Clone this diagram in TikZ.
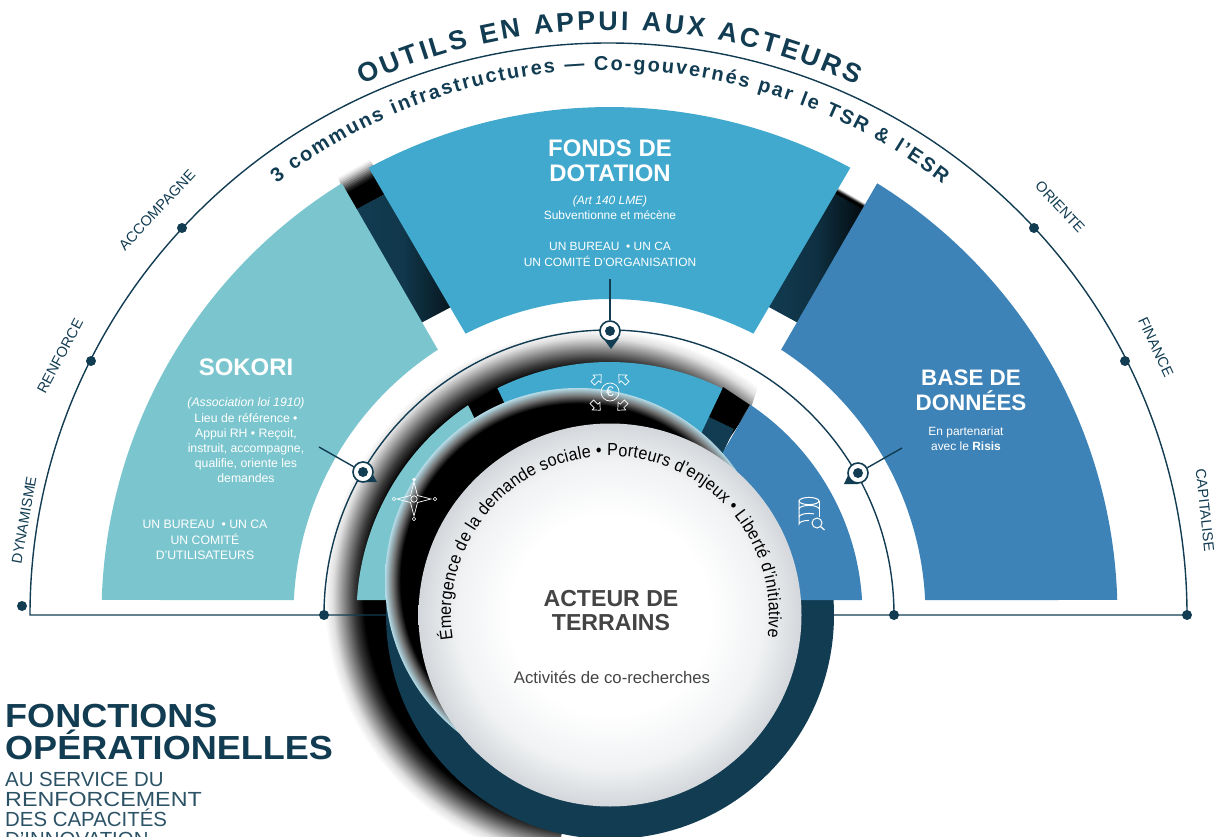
\documentclass[tikz,border=0pt]{standalone}
\usepackage{fontspec}
\setmainfont{Liberation Sans}
\newfontfamily\widef[FakeStretch=1.08]{Liberation Sans}
\newfontfamily\widerf[FakeStretch=1.14]{Liberation Sans}
\newfontfamily\narrowf[FakeStretch=.92]{Liberation Sans}
\usetikzlibrary{calc,decorations.text}
\definecolor{navy}{HTML}{123C52}
\definecolor{teal}{HTML}{7BC6CE}
\definecolor{fonds}{HTML}{41A9CD}
\definecolor{based}{HTML}{3E83B7}
\definecolor{darktxt}{HTML}{444444}
\definecolor{subt}{HTML}{2C5266}
\definecolor{rimA}{HTML}{D3D7DB}
\definecolor{rimB}{HTML}{F0F2F3}
\definecolor{halo}{HTML}{B4DCE8}
\pgfdeclareradialshading{blurd}{\pgfpoint{0bp}{0bp}}{color(0bp)=(black);color(21.3bp)=(black);color(22.2bp)=(black!78);color(23.2bp)=(black!45);color(24.2bp)=(black!12);color(25bp)=(white);color(50bp)=(white)}
\pgfdeclareradialshading{rimd}{\pgfpoint{0bp}{0bp}}{color(0bp)=(black);color(23bp)=(black);color(24bp)=(black!55);color(25bp)=(halo);color(50bp)=(halo)}
\pgfdeclareradialshading{plate}{\pgfpoint{0bp}{0bp}}{color(0bp)=(white);color(13bp)=(white);color(20bp)=(rimB);color(25bp)=(rimA);color(50bp)=(rimA)}
\tikzset{
  wtxt/.style={text=white,inner sep=0,align=center,font=\fontsize{12}{15.3}\selectfont},
  wbig/.style={text=white,inner sep=0,align=center,font=\fontsize{24}{25}\selectfont\bfseries},
  axis/.style={text=navy,inner sep=0,font=\fontsize{14.6}{18}\selectfont},
  dotn/.style={circle,fill=navy,inner sep=0,minimum size=10bp},
  markn/.style={circle,fill=white,draw=navy,line width=1.6bp,inner sep=0,minimum size=20bp},
  lineN/.style={draw=navy,line width=1.4bp},
  icon/.style={draw=white,line width=.7bp},
  headl/.style={anchor=base west,inner sep=0,text=navy,font=\widef\fontsize{33.5}{36}\selectfont\bfseries},
  subl/.style={anchor=base west,inner sep=0,text=subt,font=\fontsize{20.5}{22}\selectfont},
}
\begin{document}
\begin{tikzpicture}[x=1bp,y=-1bp]
\useasboundingbox (0,0) rectangle (1219,837);
\coordinate (c) at (609.5,615);
\coordinate (d) at (610,615);
% soft shadow disc, cut off on the lower right
\begin{scope}
\clip (0,0) -- (770,0) -- (770,350) -- (752,405) -- (610,615) -- (561,837) -- (0,837) -- cycle;
\shade[shading=blurd] (592,597) circle[radius=268];
\end{scope}
% navy ring below the wedge line
\begin{scope}
\clip (0,600) rectangle (1219,837);
\fill[navy] (d) circle[radius=224];
\end{scope}
% small strips
\fill[black] (468,405) -- (497,387) -- (530,440) -- (495,460) -- cycle;
\fill[black] (723,387) -- (750,405) -- (734,429) -- (709,417) -- cycle;
\fill[navy] (709,417) -- (734,429) -- (722,455) -- (695,437) -- cycle;
% small wedges
\fill[teal] ([shift={(-176.6:253)}]c) arc[start angle=-176.6,end angle=-124,radius=253] -- (530,530) -- (530,600) -- cycle;
\fill[fonds] ([shift={(-116.3:253)}]c) arc[start angle=-116.3,end angle=-63.5,radius=253] -- (660,520) -- (560,520) -- cycle;
\fill[based] ([shift={(-56.2:253)}]c) arc[start angle=-56.2,end angle=-3.4,radius=253] -- (700,600) -- (690,510) -- cycle;
% big strips: fade at the top, then navy
\foreach \t/\k in {0/6,.1/14,.2/24,.3/36,.4/48,.5/60,.6/72,.7/84,.8/92,.9/100}{
  \fill[black!\k!white] ($(338,178)!\t!(347,195)$) -- ($(370,160)!\t!(379,177)$) -- (390,191) -- (350,213) -- cycle;
  \fill[black!\k!white] ($(837,187)!\t!(837,192)$) -- ($(866,204)!\t!(864,207)$) -- (864,212) -- (834,195) -- cycle;
}
\shade[left color=navy,right color=navy!35!black,middle color=navy!92!black] (353,211) -- (387,193) -- (453,306) -- (419,324) -- cycle;
\shade[left color=navy,right color=navy!15!black,middle color=navy!80!black] (832,192) -- (866,211) -- (800,324) -- (767,306) -- cycle;
% big wedges
\fill[teal] ([shift={(-178.3:508)}]c) arc[start angle=-178.3,end angle=-121.8,radius=508] -- ([shift={(-122.9:316)}]c) arc[start angle=-122.9,end angle=-177.3,radius=316] -- cycle;
\fill[fonds] ([shift={(-118.3:508)}]c) arc[start angle=-118.3,end angle=-61.7,radius=508] -- ([shift={(-62.9:316)}]c) arc[start angle=-62.9,end angle=-117.1,radius=316] -- cycle;
\fill[based] ([shift={(-58.2:508)}]c) arc[start angle=-58.2,end angle=-1.7,radius=508] -- ([shift={(-2.7:316)}]c) arc[start angle=-2.7,end angle=-57.1,radius=316] -- cycle;
% frame lines
\draw[lineN] (1187,615) -- (30,615) arc[start angle=-180,end angle=0,x radius=578.5,y radius=572];
\draw[lineN] (324,615) arc[start angle=-180,end angle=0,radius=285];
% dots
\node[dotn] (d0) at (22,606) {};
\node[dotn] (d1) at (91,361) {};
\node[dotn] (d2) at (182,228) {};
\node[dotn] (d3) at (1034,228) {};
\node[dotn] (d4) at (1125,361) {};
\node[dotn] (d5) at (1187,615) {};
\node[dotn] (d6) at (324,615) {};
\node[dotn] (d7) at (894,615) {};
% discs
\shade[shading=rimd] (578,581) circle[radius=193];
\shade[shading=plate] (d) circle[radius=191.5];
% curved texts
\path[decorate,decoration={text along path,text color=navy,text align={fit to path},
  text={|\fontsize{27}{30}\selectfont\bfseries|OUTILS EN APPUI AUX ACTEURS}}]
  ([shift={(-115:585)}]c) arc[start angle=-115,end angle=-65,radius=585];
\path[decorate,decoration={text along path,text color=navy,text align={fit to path},
  text={|\fontsize{20}{23}\selectfont\bfseries|3 communs infrastructures — Co-gouvernés par le TSR {\&} l’ESR}}]
  ([shift={(-127.6:545)}]c) arc[start angle=-127.6,end angle=-52.4,radius=545];
\path[decorate,decoration={text along path,text color=black,text align={fit to path},
  text={|\narrowf\fontsize{17.6}{20}\selectfont|Émergence de la demande sociale • Porteurs d’enjeux • Liberté d’initiative}}]
  ([shift={(-189:159)}]d) arc[start angle=-189,end angle=8,radius=159];
% axis labels
\node[axis,rotate=80] (lDyn) at (24,520) {DYNAMISME};
\node[axis,rotate=62] (lRen) at (60,356) {RENFORCE};
\node[axis,rotate=47] (lAcc) at (157,210) {ACCOMPAGNE};
\node[axis,rotate=-47] (lOri) at (1060,207) {ORIENTE};
\node[axis,rotate=-65] (lFin) at (1156,347) {FINANCE};
\node[axis,rotate=-84] (lCap) at (1205,510) {CAPITALISE};
% Sokori
\node[wbig] (tS) at (246,367) {SOKORI};
\node[wtxt,font=\fontsize{12.3}{15.3}\selectfont] (tS2) at (246,440.5) {\textit{(Association loi 1910)}\\Lieu de référence •\\Appui RH • Reçoit,\\instruit, accompagne,\\qualifie, oriente les\\demandes};
\node[wtxt,font=\fontsize{12.3}{15.3}\selectfont] (tS3) at (205,540) {UN BUREAU \ • UN CA\\UN COMITÉ\\D’UTILISATEURS};
% Fonds
\node[wbig] (tF) at (610,160.5) {FONDS DE\\DOTATION};
\node[wtxt] (tF2) at (610,207.5) {\textit{(Art 140 LME)}\\Subventionne et mécène};
\node[wtxt] (tF3) at (610,254.5) {UN BUREAU \ • UN CA\\UN COMITÉ D’ORGANISATION};
% Base
\node[wbig,font=\fontsize{22.5}{25}\selectfont\bfseries] (tB) at (971,390.5) {BASE DE\\DONNÉES};
\node[wtxt] (tB2) at (966,438.5) {En partenariat\\avec le \textbf{Risis}};
% center
\node[text=darktxt,inner sep=0,align=center,font=\fontsize{23.2}{25}\selectfont\bfseries] (tA) at (611,610.5) {ACTEUR DE\\TERRAINS};
\node[text=darktxt,inner sep=0,font=\fontsize{16.8}{18}\selectfont] (tA2) at (612,677) {Activités de co-recherches};
% left title
\node[headl] (h1) at (5,727) {FONCTIONS};
\node[headl] (h2) at (5,759) {OPÉRATIONELLES};
\node[subl] (h3) at (5,786) {AU SERVICE DU};
\node[subl,font=\widerf\fontsize{20.5}{22}\selectfont] (h4) at (5,806) {RENFORCEMENT};
\node[subl] (h5) at (5,826) {DES CAPACITÉS};
\node[subl] (h6) at (5,846) {D’INNOVATION};
% markers
\fill[navy] (603,338) -- (619,338) -- (611,349) -- cycle;
\fill[navy] (369,468) -- (377,482) -- (362,482) -- cycle;
\fill[navy] (851,469) -- (858,484) -- (844,484) -- cycle;
\node[markn] (mT) at (610,331) {};
\node[markn] (mL) at (363,472) {};
\node[markn] (mR) at (858,473) {};
\fill[navy] (mT) circle[radius=5];
\fill[navy] (mL) circle[radius=5];
\fill[navy] (mR) circle[radius=5];
\coordinate (lT) at (610,279);
\coordinate (lL) at (319,447);
\coordinate (lR) at (902,448);
\draw[lineN] (lT) -- (mT);
\draw[lineN] (lL) -- (mL);
\draw[lineN] (lR) -- (mR);
% compass icon
\draw[icon] (414,482) -- (417.5,495.5) -- (431,499) -- (417.5,502.5) -- (414,516) -- (410.5,502.5) -- (397,499) -- (410.5,495.5) -- cycle;
\draw[icon] (414,499) circle[radius=3.2];
\fill[white] (414,479.5) circle[radius=1.8];
\draw[icon,line width=.6bp] (414,519) circle[radius=1.7] (394,499) circle[radius=1.7] (435,499) circle[radius=1.7];
% euro icon
\draw[icon] (610,392) circle[radius=9];
\node[text=white,inner sep=0,font=\fontsize{14}{14}\selectfont] (eur) at (610,392) {€};
\foreach \x/\y/\r in {597/379/45,623/379/135,596/406/-45,622/406/-135}{
  \draw[icon,shift={(\x,\y)},rotate=\r] (-6,-2.5) -- (0,-2.5) -- (0,-5.5) -- (6,0) -- (0,5.5) -- (0,2.5) -- (-6,2.5) -- cycle;
}
% database icon
\draw[icon,line width=1bp] (809,501) ellipse[x radius=10,y radius=3.6];
\draw[icon,line width=1bp] (799,501) -- (799,524) arc[start angle=180,end angle=90,x radius=10,y radius=-3.6];
\draw[icon,line width=1bp] (819,501) -- (819,517);
\draw[icon,line width=1bp] (799,509) arc[start angle=180,end angle=0,x radius=10,y radius=-3.6];
\draw[icon,line width=1bp] (799,517) arc[start angle=180,end angle=60,x radius=10,y radius=-3.6];
\draw[icon,line width=1bp] (817,523) circle[radius=5];
\draw[icon,line width=1.2bp] (820.5,526.5) -- (824.5,530);
\end{tikzpicture}
\end{document}
